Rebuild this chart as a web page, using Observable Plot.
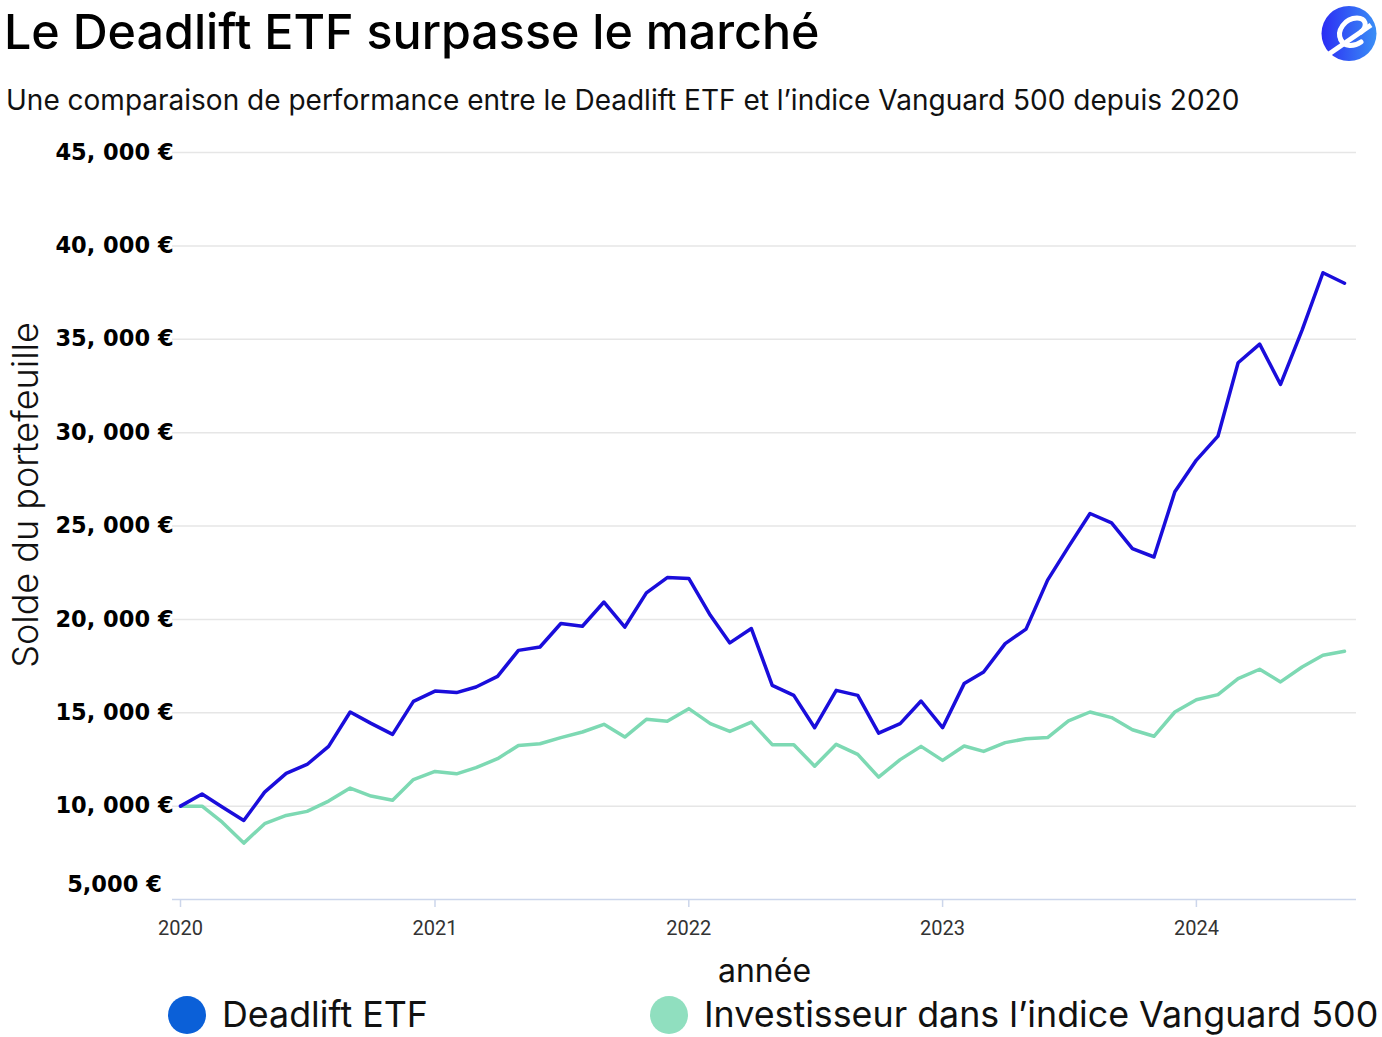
<!DOCTYPE html>
<html>
<head>
<meta charset="utf-8">
<script src="https://cdn.jsdelivr.net/npm/d3@7"></script>
<script src="https://cdn.jsdelivr.net/npm/@observablehq/plot@0.6"></script>
<style>
  html, body { margin: 0; padding: 0; background: #fff; }
  body { width: 1382px; height: 1037px; position: relative; overflow: hidden; font-family: Inter, "Noto Sans", sans-serif; color: #000; }
  #title { position: absolute; left: 4px; top: 8px; font-size: 48.4px; font-weight: 500; line-height: 1; white-space: nowrap; }
  #subtitle { position: absolute; left: 6px; top: 86px; font-size: 28px; font-weight: 400; line-height: 1; white-space: nowrap; color: #111; }
  #logo { position: absolute; left: 1321px; top: 5px; }
  #chart { position: absolute; left: 0; top: 120px; }
  #legend { position: absolute; left: 168px; top: 996px; display: flex; align-items: center; font-size: 35.8px; font-weight: 400; line-height: 1; white-space: nowrap; color: #111; }
  .item { display: flex; align-items: center; }
  .sw { width: 38px; height: 38px; border-radius: 50%; margin-right: 16px; }
</style>
</head>
<body>
<div id="title">Le Deadlift ETF surpasse le marché</div>
<div id="subtitle">Une comparaison de performance entre le Deadlift ETF et l’indice Vanguard 500 depuis 2020</div>
<svg id="logo" width="56" height="57" viewBox="0 0 56 57">
  <defs>
    <linearGradient id="lg" x1="0" y1="0" x2="1" y2="0">
      <stop offset="0" stop-color="#2b2cf4"/>
      <stop offset="1" stop-color="#3a8ff6"/>
    </linearGradient>
  </defs>
  <circle cx="28" cy="28.5" r="27.5" fill="url(#lg)"/>
  <path d="M8 49 L50 20" stroke="#fff" stroke-width="5" fill="none"/>
  <path d="M20 35 C15 26 24 13 36 13 C45 13 47 21 40 27" stroke="#fff" stroke-width="5" fill="none" stroke-linecap="round"/>
  <path d="M20 35 C23 42 33 42 40 37" stroke="#fff" stroke-width="5" fill="none" stroke-linecap="round"/>
</svg>
<div id="chart"></div>
<div id="legend"></div>
<script>
// ---- data ----
const months = [
  "2020-01","2020-02","2020-03","2020-04","2020-05","2020-06","2020-07","2020-08","2020-09","2020-10","2020-11","2020-12",
  "2021-01","2021-02","2021-03","2021-04","2021-05","2021-06","2021-07","2021-08","2021-09","2021-10","2021-11","2021-12",
  "2022-01","2022-02","2022-03","2022-04","2022-05","2022-06","2022-07","2022-08","2022-09","2022-10","2022-11","2022-12",
  "2023-01","2023-02","2023-03","2023-04","2023-05","2023-06","2023-07","2023-08","2023-09","2023-10","2023-11","2023-12",
  "2024-01","2024-02","2024-03","2024-04","2024-05","2024-06","2024-07","2024-08"
];
const deadliftValues = [
  10000,10650,9950,9230,10750,11750,12230,13200,15040,14430,13840,15610,
  16160,16080,16380,16950,18340,18520,19780,19630,20930,19590,21420,22240,
  22190,20220,18740,19510,16470,15930,14200,16200,15930,13910,14420,15630,
  14200,16560,17180,18700,19480,22100,23880,25670,25170,23790,23340,26830,
  28530,29810,33740,34740,32580,35490,38560,38000
];
const vanguardValues = [
  10000,10000,9140,8020,9060,9500,9720,10270,10970,10540,10310,11420,
  11860,11730,12060,12540,13250,13340,13670,13970,14380,13700,14650,14540,
  15220,14420,14000,14500,13290,13290,12140,13310,12770,11550,12490,13200,
  12450,13220,12930,13400,13610,13670,14560,15040,14740,14090,13740,15040,
  15700,15970,16830,17330,16650,17450,18080,18290
];
const seriesNames = ["Deadlift ETF", "Investisseur dans l’indice Vanguard 500"];
const lineColors = ["#1a0ddb", "#7dd9b3"];
const legendColors = ["#0b60d8", "#90dfbf"];
const yTicks = [5000, 10000, 15000, 20000, 25000, 30000, 35000, 40000, 45000];
const yTickLabels = ["5,000 €", "10, 000 €", "15, 000 €", "20, 000 €", "25, 000 €", "30, 000 €", "35, 000 €", "40, 000 €", "45, 000 €"];
const xTicks = ["2020-01", "2021-01", "2022-01", "2023-01", "2024-01"];
const xTickLabels = ["2020", "2021", "2022", "2023", "2024"];
const yLabel = "Solde du portefeuille";
const xLabel = "année";

// ---- build table ----
const parse = d3.utcParse("%Y-%m");
const rows = [];
months.forEach((m, i) => {
  rows.push({date: parse(m), value: vanguardValues[i], series: seriesNames[1]});
});
months.forEach((m, i) => {
  rows.push({date: parse(m), value: deadliftValues[i], series: seriesNames[0]});
});
const yLab = new Map(yTicks.map((t, i) => [t, yTickLabels[i]]));
const xTickDates = xTicks.map(parse);
const xLab = new Map(xTickDates.map((d, i) => [+d, xTickLabels[i]]));

const chart = Plot.plot({
  width: 1382,
  height: 870,
  marginTop: 32,
  marginBottom: 91,
  marginLeft: 172,
  marginRight: 26,
  style: {background: "transparent", overflow: "visible"},
  x: {type: "utc", domain: [parse(months[0]), parse(months[months.length - 1])], insetLeft: 8, insetRight: 12},
  y: {domain: [5000, 45000]},
  marks: [
    Plot.gridY(yTicks.filter(t => t > 5000), {stroke: "#e6e6e6", strokeOpacity: 1, strokeWidth: 1.5}),
    Plot.ruleY([5000], {stroke: "#ccd6eb", strokeWidth: 1.5}),
    Plot.axisY(yTicks.filter(t => t > 5000), {
      tickSize: 0, tickPadding: 58, textAnchor: "middle",
      tickFormat: d => yLab.get(d), label: null,
      fontSize: 22.5, fontWeight: "bold", fontFamily: "DejaVu Sans", fill: "#000"
    }),
    Plot.axisY([5000], {
      tickSize: 0, tickPadding: 58, textAnchor: "middle", dy: -15,
      tickFormat: d => yLab.get(d), label: null,
      fontSize: 22.5, fontWeight: "bold", fontFamily: "DejaVu Sans", fill: "#000"
    }),
    Plot.text([yLabel], {
      text: d => d, frameAnchor: "left", rotate: -90, textAnchor: "middle", lineAnchor: "top",
      dx: -160, dy: -31,
      fontSize: 36, fontWeight: 300, fontFamily: "Inter", fill: "#111"
    }),
    Plot.axisX(xTickDates, {
      tickSize: 8, tickPadding: 13, stroke: "#ccd6eb", strokeWidth: 1.5,
      tickFormat: d => xLab.get(+d), label: null,
      fontSize: 20, fontFamily: "Roboto", fill: "#333"
    }),
    Plot.axisX([], {
      tickSize: 0, label: xLabel, labelAnchor: "center", labelOffset: 82, labelArrow: "none",
      fontSize: 32, fontWeight: 400, fontFamily: "Inter", fill: "#111"
    }),
    Plot.line(rows, {
      x: "date", y: "value", z: "series",
      stroke: d => d.series === seriesNames[0] ? lineColors[0] : lineColors[1],
      strokeWidth: 3.5, strokeLinejoin: "round"
    })
  ]
});
document.getElementById("chart").appendChild(chart);

// ---- legend ----
const legend = document.getElementById("legend");
seriesNames.forEach((name, i) => {
  const item = document.createElement("div");
  item.className = "item";
  if (i === 0) item.style.width = "482px";
  const sw = document.createElement("div");
  sw.className = "sw";
  sw.style.background = legendColors[i];
  const label = document.createElement("span");
  label.textContent = name;
  item.appendChild(sw);
  item.appendChild(label);
  legend.appendChild(item);
});
</script>
</body>
</html>
